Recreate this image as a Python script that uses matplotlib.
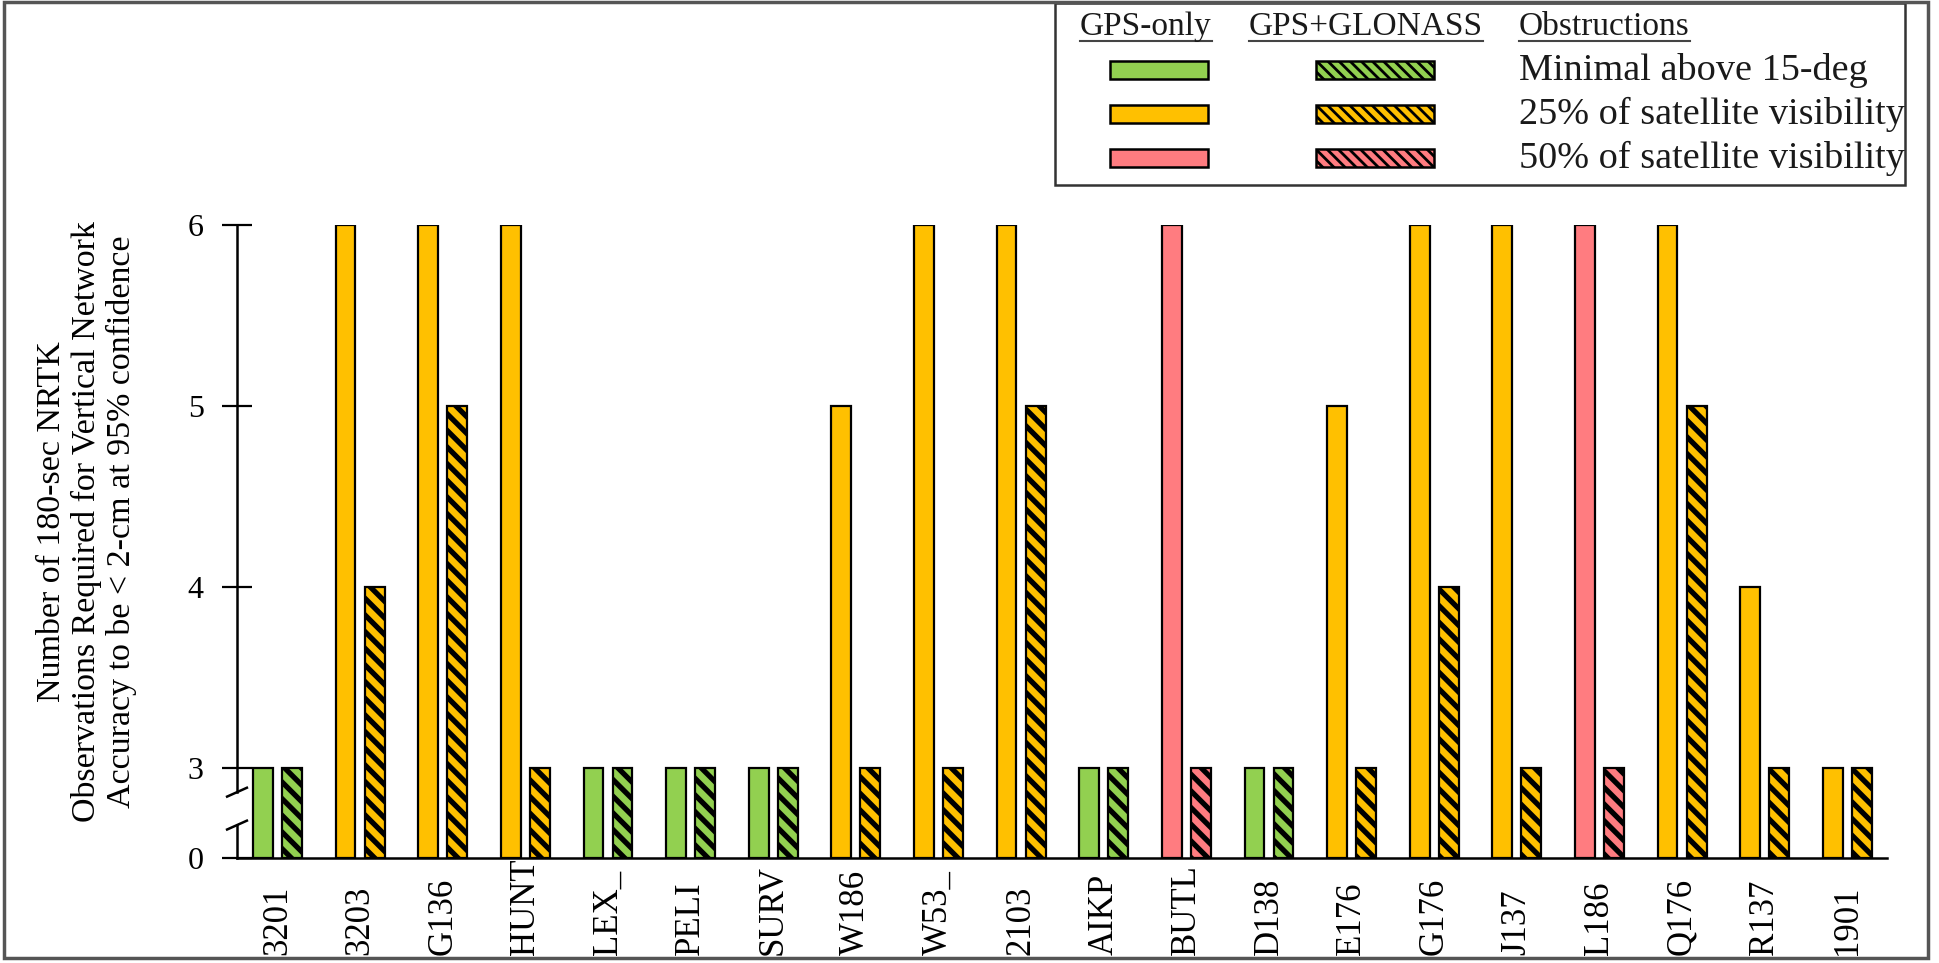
import numpy as np
import matplotlib.pyplot as plt
from matplotlib.patches import Rectangle
from matplotlib.lines import Line2D

plt.rcParams['font.family'] = ['Liberation Serif', 'DejaVu Serif']
plt.rcParams['hatch.linewidth'] = 3.8
plt.rcParams['hatch.color'] = 'black'

sites = ['3201', '3203', 'G136', 'HUNT', 'LEX_', 'PELI', 'SURV', 'W186', 'W53_', '2103',
         'AIKP', 'BUTL', 'D138', 'E176', 'G176', 'J137', 'L186', 'Q176', 'R137', '1901']
gps_only = [3, 6, 6, 6, 3, 3, 3, 5, 6, 6, 3, 6, 3, 5, 6, 6, 6, 6, 4, 3]
gps_glonass = [3, 4, 5, 3, 3, 3, 3, 3, 3, 5, 3, 3, 3, 3, 4, 3, 3, 5, 3, 3]
obstruction = ['min', '25', '25', '25', 'min', 'min', 'min', '25', '25', '25',
               'min', '50', 'min', '25', '25', '25', '50', '25', '25', '25']

obs_keys = ['min', '25', '50']
obs_labels = ['Minimal above 15-deg', '25% of satellite visibility', '50% of satellite visibility']
obs_colors = {'min': '#92D050', '25': '#FFC000', '50': '#FF7C80'}

y_ticks = [0, 3, 4, 5, 6]


# broken y axis: everything below 3 is squeezed into half a unit
def fwd(v):
    v = np.asarray(v, dtype=float)
    return np.where(v >= 3, v, 2.5 + v / 6.0)


def inv(p):
    p = np.asarray(p, dtype=float)
    return np.where(p >= 3, p, (p - 2.5) * 6.0)


W, H = 1939, 963
fig = plt.figure(figsize=(W / 100, H / 100), dpi=100)
ax = fig.add_axes([237 / W, 1 - 858 / H, (1887 - 237) / W, (858 - 225) / H])

x = np.arange(len(sites))
colors = [obs_colors[o] for o in obstruction]
bw = 0.24
off = 0.176
ax.bar(x - off, gps_only, bw, color=colors, edgecolor='black', linewidth=1.6, zorder=3)
ax.bar(x + off, gps_glonass, bw, color=colors, edgecolor='black', linewidth=1.6,
       hatch='\\\\', zorder=3)

ax.set_yscale('function', functions=(fwd, inv))
ax.set_ylim(0, 6)
ax.set_xlim(-0.49, 19.48)
ax.set_yticks(y_ticks)
ax.set_yticklabels([str(t) for t in y_ticks], fontsize=23)
ax.set_xticks(x)
ax.set_xticklabels(sites, rotation=90, fontsize=25)
# labels start at the bottom of the figure and read upward
ax.tick_params(axis='x', length=0, pad=70)
for lbl in ax.get_xticklabels():
    lbl.set_va('bottom')
ax.tick_params(axis='y', direction='inout', length=22, width=1.6, pad=13)

for s in ['top', 'right', 'left']:
    ax.spines[s].set_visible(False)
ax.spines['bottom'].set_linewidth(1.8)

# left spine drawn in two pieces with break marks
kw = dict(transform=ax.transAxes, color='black', lw=1.8, clip_on=False, zorder=4)
ax.add_line(Line2D([0, 0], [0.104, 1.0], **kw))
ax.add_line(Line2D([0, 0], [0.0, 0.052], **kw))
dx, dy = 0.006, 0.007
ax.add_line(Line2D([-dx, dx], [0.104 - dy, 0.104 + dy], **kw))
ax.add_line(Line2D([-dx, dx], [0.052 - dy, 0.052 + dy], **kw))

fig.text(87 / W, 1 - 522 / H,
         'Number of 180-sec NRTK\nObservations Required for Vertical Network\n'
         'Accuracy to be < 2-cm at 95% confidence',
         rotation=90, ha='center', va='center', multialignment='center',
         fontsize=24.5, linespacing=1.16)

# legend box
fig.patches.append(Rectangle((1055 / W, 1 - 185 / H), 850 / W, 182 / H,
                             transform=fig.transFigure, fill=False,
                             edgecolor='#333333', lw=1.8))
headers = [('GPS-only', 1080), ('GPS+GLONASS', 1249), ('Obstructions', 1519)]
head_texts = []
for label, px in headers:
    head_texts.append(fig.text(px / W, 1 - 27 / H, label, ha='left', va='center',
                               fontsize=24, color='#1a1a1a'))
row_y = [70, 114, 158]
for key, lab, py in zip(obs_keys, obs_labels, row_y):
    c = obs_colors[key]
    fig.patches.append(Rectangle((1110 / W, 1 - (py + 9) / H), 98 / W, 18 / H,
                                 transform=fig.transFigure, facecolor=c,
                                 edgecolor='black', lw=1.8))
    hp = Rectangle((1316 / W, 1 - (py + 9) / H), 118 / W, 18 / H,
                   transform=fig.transFigure, facecolor=c,
                   edgecolor='black', lw=1.8, hatch='\\\\\\')
    if hasattr(hp, 'set_hatch_linewidth'):
        hp.set_hatch_linewidth(2.0)
    fig.patches.append(hp)
    fig.text(1519 / W, 1 - py / H, lab, ha='left', va='center', fontsize=27.5,
             color='#1a1a1a')

# underline the column headers
fig.canvas.draw()
r = fig.canvas.get_renderer()
for t in head_texts:
    bb = t.get_window_extent(r)
    fig.lines.append(Line2D([bb.x0 / W, bb.x1 / W], [(bb.y0 + 1) / H] * 2,
                            transform=fig.transFigure, color='#444444', lw=1.5))

# outer frame
fig.patches.append(Rectangle((4 / W, 1 - 958 / H), 1924 / W, 956 / H,
                             transform=fig.transFigure, fill=False,
                             edgecolor='#555555', lw=2.5))

fig.savefig('out.png', dpi=100)
